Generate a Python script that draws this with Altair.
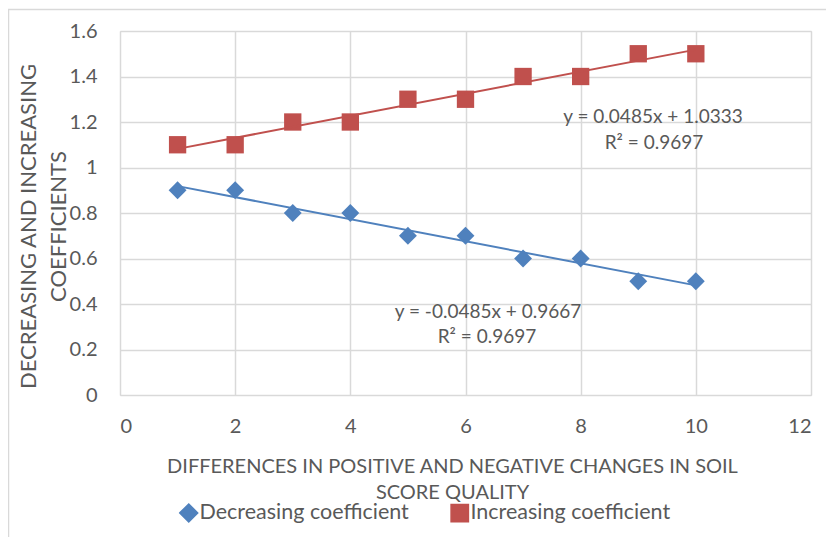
import altair as alt
import pandas as pd

x_vals = [1, 2, 3, 4, 5, 6, 7, 8, 9, 10]
decreasing = [0.9, 0.9, 0.8, 0.8, 0.7, 0.7, 0.6, 0.6, 0.5, 0.5]
increasing = [1.1, 1.1, 1.2, 1.2, 1.3, 1.3, 1.4, 1.4, 1.5, 1.5]
series_names = ["Decreasing coefficient", "Increasing coefficient"]
x_ticks = [0, 2, 4, 6, 8, 10, 12]
y_ticks = [0, 0.2, 0.4, 0.6, 0.8, 1, 1.2, 1.4, 1.6]
eq_inc = ["y = 0.0485x + 1.0333", "R² = 0.9697"]
eq_dec = ["y = -0.0485x + 0.9667", "R² = 0.9697"]

rows = []
for xv, d in zip(x_vals, decreasing):
    rows.append({"x": xv, "y": d, "series": series_names[0]})
for xv, i in zip(x_vals, increasing):
    rows.append({"x": xv, "y": i, "series": series_names[1]})
df = pd.DataFrame(rows)

FONT = "Lato"
TXT = "#595959"
GRID = "#d9d9d9"
colors = ["#4F81BD", "#C0504D"]

xenc = alt.X("x:Q", scale=alt.Scale(domain=[0, 12], nice=False),
             axis=alt.Axis(values=x_ticks, format="~g",
                           title=["DIFFERENCES IN POSITIVE AND NEGATIVE CHANGES IN SOIL", "SCORE QUALITY"],
                           titleX=332, titleY=61, titleBaseline="top", titleAlign="center",
                           titleFontSize=20, titleFontWeight="normal", titleColor=TXT, titleFont=FONT,
                           titleLineHeight=26,
                           labelFontSize=20, labelColor=TXT, labelFont=FONT, labelPadding=21,
                           ticks=False, tickSize=0, domain=False, grid=True, gridColor=GRID, gridWidth=1.5))
yenc = alt.Y("y:Q", scale=alt.Scale(domain=[0, 1.6], nice=False),
             axis=alt.Axis(values=y_ticks, format="~g", title=["DECREASING AND INCREASING", "COEFFICIENTS"],
                           titleAngle=270, titleX=-102, titleY=195, titleBaseline="top", titleAlign="center",
                           titleFontSize=22, titleFontWeight="normal", titleColor=TXT, titleFont=FONT,
                           titleLineHeight=30,
                           labelFontSize=20, labelColor=TXT, labelFont=FONT, labelPadding=23,
                           ticks=False, tickSize=0, domain=False, grid=True, gridColor=GRID, gridWidth=1.5))

legend_spec = dict(title=None, orient="none", direction="horizontal",
                   legendX=58, legendY=471, labelFontSize=21.5, labelFont=FONT, labelLimit=400,
                   labelColor=TXT, symbolSize=190, labelOffset=0, columnPadding=39,
                   symbolOpacity=1)

base = alt.Chart(df)

points = base.mark_point(filled=True, opacity=1).encode(
    x=xenc, y=yenc,
    color=alt.Color("series:N", scale=alt.Scale(domain=series_names, range=colors),
                    legend=alt.Legend(**legend_spec)),
    shape=alt.Shape("series:N", scale=alt.Scale(domain=series_names, range=["diamond", "square"]),
                    legend=alt.Legend(**legend_spec)),
    size=alt.Size("series:N", scale=alt.Scale(domain=series_names, range=[320, 300]), legend=None),
)

trend = base.transform_regression("x", "y", groupby=["series"]).mark_line(strokeWidth=2).encode(
    x="x:Q", y="y:Q",
    color=alt.Color("series:N", scale=alt.Scale(domain=series_names, range=colors), legend=None),
)

ann_df_inc = pd.DataFrame({"t": eq_inc, "i": [0, 1]})
ann_df_dec = pd.DataFrame({"t": eq_dec, "i": [0, 1]})

def ann(df_, idx, px, py):
    return alt.Chart(df_).transform_filter(f"datum.i == {idx}").mark_text(
        fontSize=19, font=FONT, color=TXT, align="center", baseline="middle").encode(
        text="t:N", x=alt.value(px), y=alt.value(py))

ann_inc1 = ann(ann_df_inc, 0, 533, 86)
ann_inc2 = ann(ann_df_inc, 1, 534, 112)
ann_dec1 = ann(ann_df_dec, 0, 368, 281)
ann_dec2 = ann(ann_df_dec, 1, 367, 306)

border_top = alt.Chart(ann_df_inc).transform_filter("datum.i == 0").mark_rule(
    color=GRID, strokeWidth=1.5).encode(
    x=alt.value(-112), x2=alt.value(714), y=alt.value(-21.5))
border_left = alt.Chart(ann_df_inc).transform_filter("datum.i == 0").mark_rule(
    color=GRID, strokeWidth=1.5).encode(
    x=alt.value(-111.5), y=alt.value(-21.5), y2=alt.value(520))

chart = alt.layer(points, trend, ann_inc1, ann_inc2, ann_dec1, ann_dec2, border_top, border_left).properties(
    width=691, height=364,
    autosize=alt.AutoSizeParams(type="none"),
    padding={"left": 112, "top": 23, "right": 15, "bottom": 142},
).configure_view(stroke=GRID, strokeWidth=1.5).configure(font=FONT)

chart.save("out.html", embed_options={"renderer": "svg", "actions": False})
